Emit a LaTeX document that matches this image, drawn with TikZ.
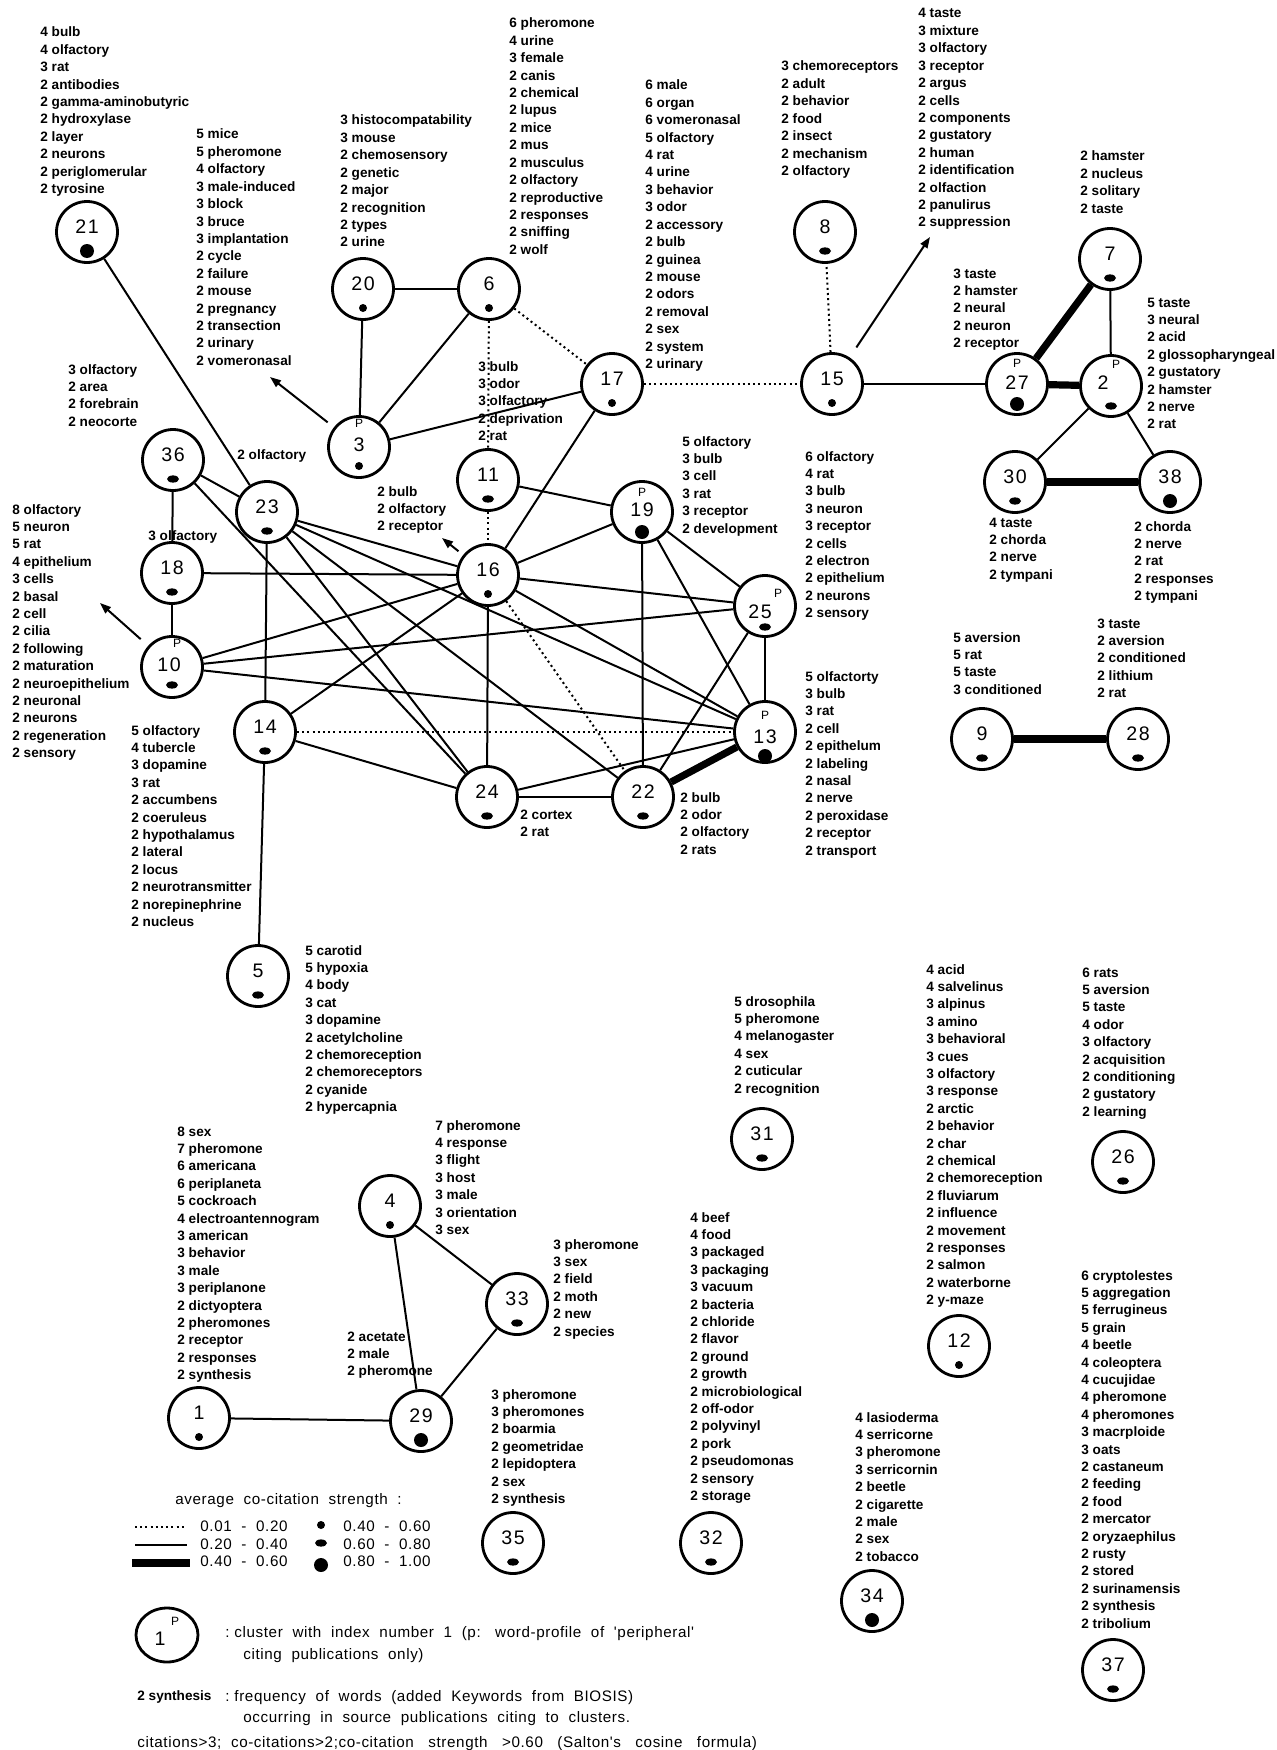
\documentclass[tikz,border=0pt]{standalone}
\usepackage{fontspec}
\setmainfont{Liberation Sans}
\newfontfamily\numberfont[LetterSpace=8]{Liberation Sans}
\newfontfamily\legendfont[LetterSpace=4]{Liberation Sans}
\usetikzlibrary{arrows.meta, shapes.geometric}

\begin{document}
\begin{tikzpicture}[x=0.5pt, y=-0.5pt,
    cluster/.style={circle, draw, line width=1.4pt, minimum size=30.5pt, inner sep=0pt},
    num/.style={inner sep=0pt, font=\numberfont\fontsize{9.8}{10}\selectfont},
    pmark/.style={inner sep=0pt, font=\fontsize{6}{7}\selectfont},
    word/.style={anchor=base west, inner sep=0pt, font=\fontsize{6.8}{8}\selectfont\bfseries},
    smalldot/.style={circle, fill, inner sep=0pt, minimum size=4pt},
    middot/.style={ellipse, fill, inner sep=0pt, minimum width=6pt, minimum height=3.6pt},
    bigdot/.style={circle, fill, inner sep=0pt, minimum size=7pt},
    link/.style={line width=1pt},
    weak/.style={line width=1pt, dash pattern=on 1pt off 1.6pt},
    strong/.style={line width=3.6pt},
    pointer/.style={line width=1pt, -{Triangle[length=5.5pt, width=4pt]}},
    legend/.style={anchor=base west, inner sep=0pt, font=\legendfont\fontsize{7.6}{9}\selectfont}
]
    % Page frame
    \path[use as bounding box, fill=white] (0,0) rectangle (1276,1750);
    % Word lists: name, x, baseline of first line, words
    \def\wordlist#1#2#3#4{
        \foreach \w [count=\i from 0] in {#4}
            \node[word] (#1-\i) at (#2,#3+17.4*\i) {\w};
    }
    % Clusters
    \foreach \n/\x/\y/\d in {21/87/232/bigdot, 20/363/289/smalldot, 6/489/289/smalldot,
        17/612/384/smalldot, 15/832/384/smalldot, 8/825/232/middot, 7/1110/259/middot,
        30/1015/482/middot, 38/1170/482/bigdot, 9/982/739/middot, 28/1138/739/middot,
        36/173/460/middot, 23/267/512/middot, 18/172/573/middot, 14/265/732/middot,
        11/488/480/middot, 16/488/575/smalldot, 24/487/797/middot, 22/643/797/middot,
        5/258/976/middot, 4/390/1206/smalldot, 33/517/1304/middot, 1/199/1418/smalldot,
        29/421/1421/bigdot, 31/762/1139/middot, 26/1123/1162/middot, 12/959/1346/smalldot,
        35/513/1543/middot, 32/711/1543/middot, 34/872/1601/bigdot, 37/1113/1670/middot}
    {
        \node[cluster] (c\n) at (\x,\y) {};
        \node[num] (n\n) at (\x,\y-5) {\n};
        \node[\d] (d\n) at (\x,\y+19) {};
    }
    % Clusters with a peripheral word-profile
    \foreach \n/\x/\y/\d/\dy/\nx/\ny/\px/\py in {3/359/447/smalldot/19/0/-2/0/-24,
        27/1017/384/bigdot/20/0/-1/0/-21, 19/642/512/bigdot/20/0/-2/0/-20,
        13/765/732/bigdot/24/0/5/0/-17, 10/172/667/middot/18/-3/-2/5/-24,
        25/765/606/middot/21/-5/6/13/-13, 2/1111/386/middot/20/-8/-3/5/-22}
    {
        \node[cluster] (c\n) at (\x,\y) {};
        \node[num] (n\n) at (\x+\nx,\y+\ny) {\n};
        \node[pmark] (p\n) at (\x+\px,\y+\py) {P};
        \node[\d] (d\n) at (\x,\y+\dy) {};
    }
    % Co-citation links
    \foreach \a/\b in {21/23, 20/6, 20/3, 6/3, 3/17, 17/16, 15/27, 7/2, 2/30, 2/38,
        36/23, 36/18, 18/10, 36/24, 23/16, 23/13, 23/22, 23/24, 23/14, 18/16, 10/16,
        10/25, 10/13, 14/16, 14/24, 11/19, 16/19, 16/25, 16/13, 16/24, 19/22, 19/13,
        19/25, 25/13, 25/22, 13/24, 24/22, 5/14, 4/33, 4/29, 33/29, 1/29}
        \draw[link] (c\a) -- (c\b);
    \foreach \a/\b in {6/17, 6/11, 11/16, 17/15, 15/8, 14/13, 16/22}
        \draw[weak] (c\a) -- (c\b);
    \foreach \a/\b in {27/7, 27/2, 30/38, 9/28, 13/22}
        \draw[strong] (c\a) -- (c\b);
    % Arrows to the word lists
    \coordinate (t3) at (270,377);
    \coordinate (t15) at (930,237);
    \coordinate (t16) at (442,538);
    \coordinate (t10) at (100,603);
    \draw[pointer, shorten <=4pt] (c3) -- (t3);
    \draw[pointer, shorten <=6pt] (c15) -- (t15);
    \draw[pointer, shorten <=3pt] (c16) -- (t16);
    \draw[pointer, shorten <=5pt] (c10) -- (t10);
    % Word frequencies
    \wordlist{w21}{40}{37}{4 bulb,4 olfactory,3 rat,2 antibodies,2 gamma-aminobutyric,2 hydroxylase,2 layer,2 neurons,2 periglomerular,2 tyrosine}
    \wordlist{w3a}{196}{139}{5 mice,5 pheromone,4 olfactory,3 male-induced,3 block,3 bruce,3 implantation,2 cycle,2 failure,2 mouse,2 pregnancy,2 transection,2 urinary,2 vomeronasal}
    \wordlist{w20}{340}{125}{3 histocompatability,3 mouse,2 chemosensory,2 genetic,2 major,2 recognition,2 types,2 urine}
    \wordlist{w6}{509}{28}{6 pheromone,4 urine,3 female,2 canis,2 chemical,2 lupus,2 mice,2 mus,2 musculus,2 olfactory,2 reproductive,2 responses,2 sniffing,2 wolf}
    \wordlist{w17}{645}{90}{6 male,6 organ,6 vomeronasal,5 olfactory,4 rat,4 urine,3 behavior,3 odor,2 accessory,2 bulb,2 guinea,2 mouse,2 odors,2 removal,2 sex,2 system,2 urinary}
    \wordlist{w8}{781}{71}{3 chemoreceptors,2 adult,2 behavior,2 food,2 insect,2 mechanism,2 olfactory}
    \wordlist{w15}{918}{18}{4 taste,3 mixture,3 olfactory,3 receptor,2 argus,2 cells,2 components,2 gustatory,2 human,2 identification,2 olfaction,2 panulirus,2 suppression}
    \wordlist{w7}{1080}{161}{2 hamster,2 nucleus,2 solitary,2 taste}
    \wordlist{w27}{953}{278}{3 taste,2 hamster,2 neural,2 neuron,2 receptor}
    \wordlist{w2}{1147}{307}{5 taste,3 neural,2 acid,2 glossopharyngeal,2 gustatory,2 hamster,2 nerve,2 rat}
    \wordlist{w3b}{68}{374}{3 olfactory,2 area,2 forebrain,2 neocorte}
    \wordlist{w23}{237}{459}{2 olfactory}
    \wordlist{w11}{478}{371}{3 bulb,3 odor,3 olfactory,2 deprivation,2 rat}
    \wordlist{w16}{377}{496}{2 bulb,2 olfactory,2 receptor}
    \wordlist{w18}{148}{540}{3 olfactory}
    \wordlist{w10}{12}{514}{8 olfactory,5 neuron,5 rat,4 epithelium,3 cells,2 basal,2 cell,2 cilia,2 following,2 maturation,2 neuroepithelium,2 neuronal,2 neurons,2 regeneration,2 sensory}
    \wordlist{w14}{131}{735}{5 olfactory,4 tubercle,3 dopamine,3 rat,2 accumbens,2 coeruleus,2 hypothalamus,2 lateral,2 locus,2 neurotransmitter,2 norepinephrine,2 nucleus}
    \wordlist{w19}{682}{446}{5 olfactory,3 bulb,3 cell,3 rat,3 receptor,2 development}
    \wordlist{w25}{805}{461}{6 olfactory,4 rat,3 bulb,3 neuron,3 receptor,2 cells,2 electron,2 epithelium,2 neurons,2 sensory}
    \wordlist{w13}{805}{681}{5 olfactorty,3 bulb,3 rat,2 cell,2 epithelum,2 labeling,2 nasal,2 nerve,2 peroxidase,2 receptor,2 transport}
    \wordlist{w24}{520}{819}{2 cortex,2 rat}
    \wordlist{w22}{680}{802}{2 bulb,2 odor,2 olfactory,2 rats}
    \wordlist{w30}{989}{527}{4 taste,2 chorda,2 nerve,2 tympani}
    \wordlist{w38}{1134}{531}{2 chorda,2 nerve,2 rat,2 responses,2 tympani}
    \wordlist{w9}{953}{642}{5 aversion,5 rat,5 taste,3 conditioned}
    \wordlist{w28}{1097}{628}{3 taste,2 aversion,2 conditioned,2 lithium,2 rat}
    \wordlist{w5}{305}{955}{5 carotid,5 hypoxia,4 body,3 cat,3 dopamine,2 acetylcholine,2 chemoreception,2 chemoreceptors,2 cyanide,2 hypercapnia}
    \wordlist{w1}{177}{1136}{8 sex,7 pheromone,6 americana,6 periplaneta,5 cockroach,4 electroantennogram,3 american,3 behavior,3 male,3 periplanone,2 dictyoptera,2 pheromones,2 receptor,2 responses,2 synthesis}
    \wordlist{w4}{435}{1130}{7 pheromone,4 response,3 flight,3 host,3 male,3 orientation,3 sex}
    \wordlist{w33}{553}{1249}{3 pheromone,3 sex,2 field,2 moth,2 new,2 species}
    \wordlist{w29}{347}{1341}{2 acetate,2 male,2 pheromone}
    \wordlist{w35}{491}{1399}{3 pheromone,3 pheromones,2 boarmia,2 geometridae,2 lepidoptera,2 sex,2 synthesis}
    \wordlist{w32}{690}{1222}{4 beef,4 food,3 packaged,3 packaging,3 vacuum,2 bacteria,2 chloride,2 flavor,2 ground,2 growth,2 microbiological,2 off-odor,2 polyvinyl,2 pork,2 pseudomonas,2 sensory,2 storage}
    \wordlist{w31}{734}{1006}{5 drosophila,5 pheromone,4 melanogaster,4 sex,2 cuticular,2 recognition}
    \wordlist{w12}{926}{974}{4 acid,4 salvelinus,3 alpinus,3 amino,3 behavioral,3 cues,3 olfactory,3 response,2 arctic,2 behavior,2 char,2 chemical,2 chemoreception,2 fluviarum,2 influence,2 movement,2 responses,2 salmon,2 waterborne,2 y-maze}
    \wordlist{w26}{1082}{977}{6 rats,5 aversion,5 taste,4 odor,3 olfactory,2 acquisition,2 conditioning,2 gustatory,2 learning}
    \wordlist{w34}{855}{1422}{4 lasioderma,4 serricorne,3 pheromone,3 serricornin,2 beetle,2 cigarette,2 male,2 sex,2 tobacco}
    \wordlist{w37}{1081}{1280}{6 cryptolestes,5 aggregation,5 ferrugineus,5 grain,4 beetle,4 coleoptera,4 cucujidae,4 pheromone,4 pheromones,3 macrploide,3 oats,2 castaneum,2 feeding,2 food,2 mercator,2 oryzaephilus,2 rusty,2 stored,2 surinamensis,2 synthesis,2 tribolium}
    % Legend
    \node[legend] (title) at (175,1504) {average\ \ co-citation\ \ strength\ \ :};
    \draw[weak] (135,1527) -- (185,1527);
    \draw[link] (135,1545) -- (187,1545);
    \draw[strong] (132,1563) -- (190,1563);
    \node[legend] (l1) at (200,1531) {0.01\ \ -\ \ 0.20};
    \node[legend] (l2) at (200,1549) {0.20\ \ -\ \ 0.40};
    \node[legend] (l3) at (200,1566) {0.40\ \ -\ \ 0.60};
    \node[smalldot] (s1) at (321,1525) {};
    \node[middot] (s2) at (321,1543) {};
    \node[bigdot] (s3) at (321,1565) {};
    \node[legend] (l4) at (343,1531) {0.40\ \ -\ \ 0.60};
    \node[legend] (l5) at (343,1549) {0.60\ \ -\ \ 0.80};
    \node[legend] (l6) at (343,1566) {0.80\ \ -\ \ 1.00};
    \node[cluster, ellipse, minimum width=31pt, minimum height=27pt] (key) at (167,1635) {};
    \node[num] (keyn) at (160,1639) {1};
    \node[pmark] (keyp) at (175,1621) {P};
    \node[legend] (k1) at (225,1637) {:\ cluster\ \ with\ \ index\ \ number\ \ 1\ \ (p:\ \ \ word-profile\ \ of\ \ 'peripheral'};
    \node[legend] (k2) at (243,1659) {citing\ \ publications\ \ only)};
    \node[word] (k3) at (137,1700) {2 synthesis};
    \node[legend] (k4) at (225,1701) {:\ frequency\ \ of\ \ words\ \ (added\ \ Keywords\ \ from\ \ BIOSIS)};
    \node[legend] (k5) at (243,1722) {occurring\ \ in\ \ source\ \ publications\ \ citing\ \ to\ \ clusters.};
    \node[legend] (k6) at (137,1747) {citations>3;\ \ co-citations>2;co-citation\ \ \ strength\ \ \ >0.60\ \ \ (Salton's\ \ \ cosine\ \ \ formula)};
\end{tikzpicture}
\end{document}
